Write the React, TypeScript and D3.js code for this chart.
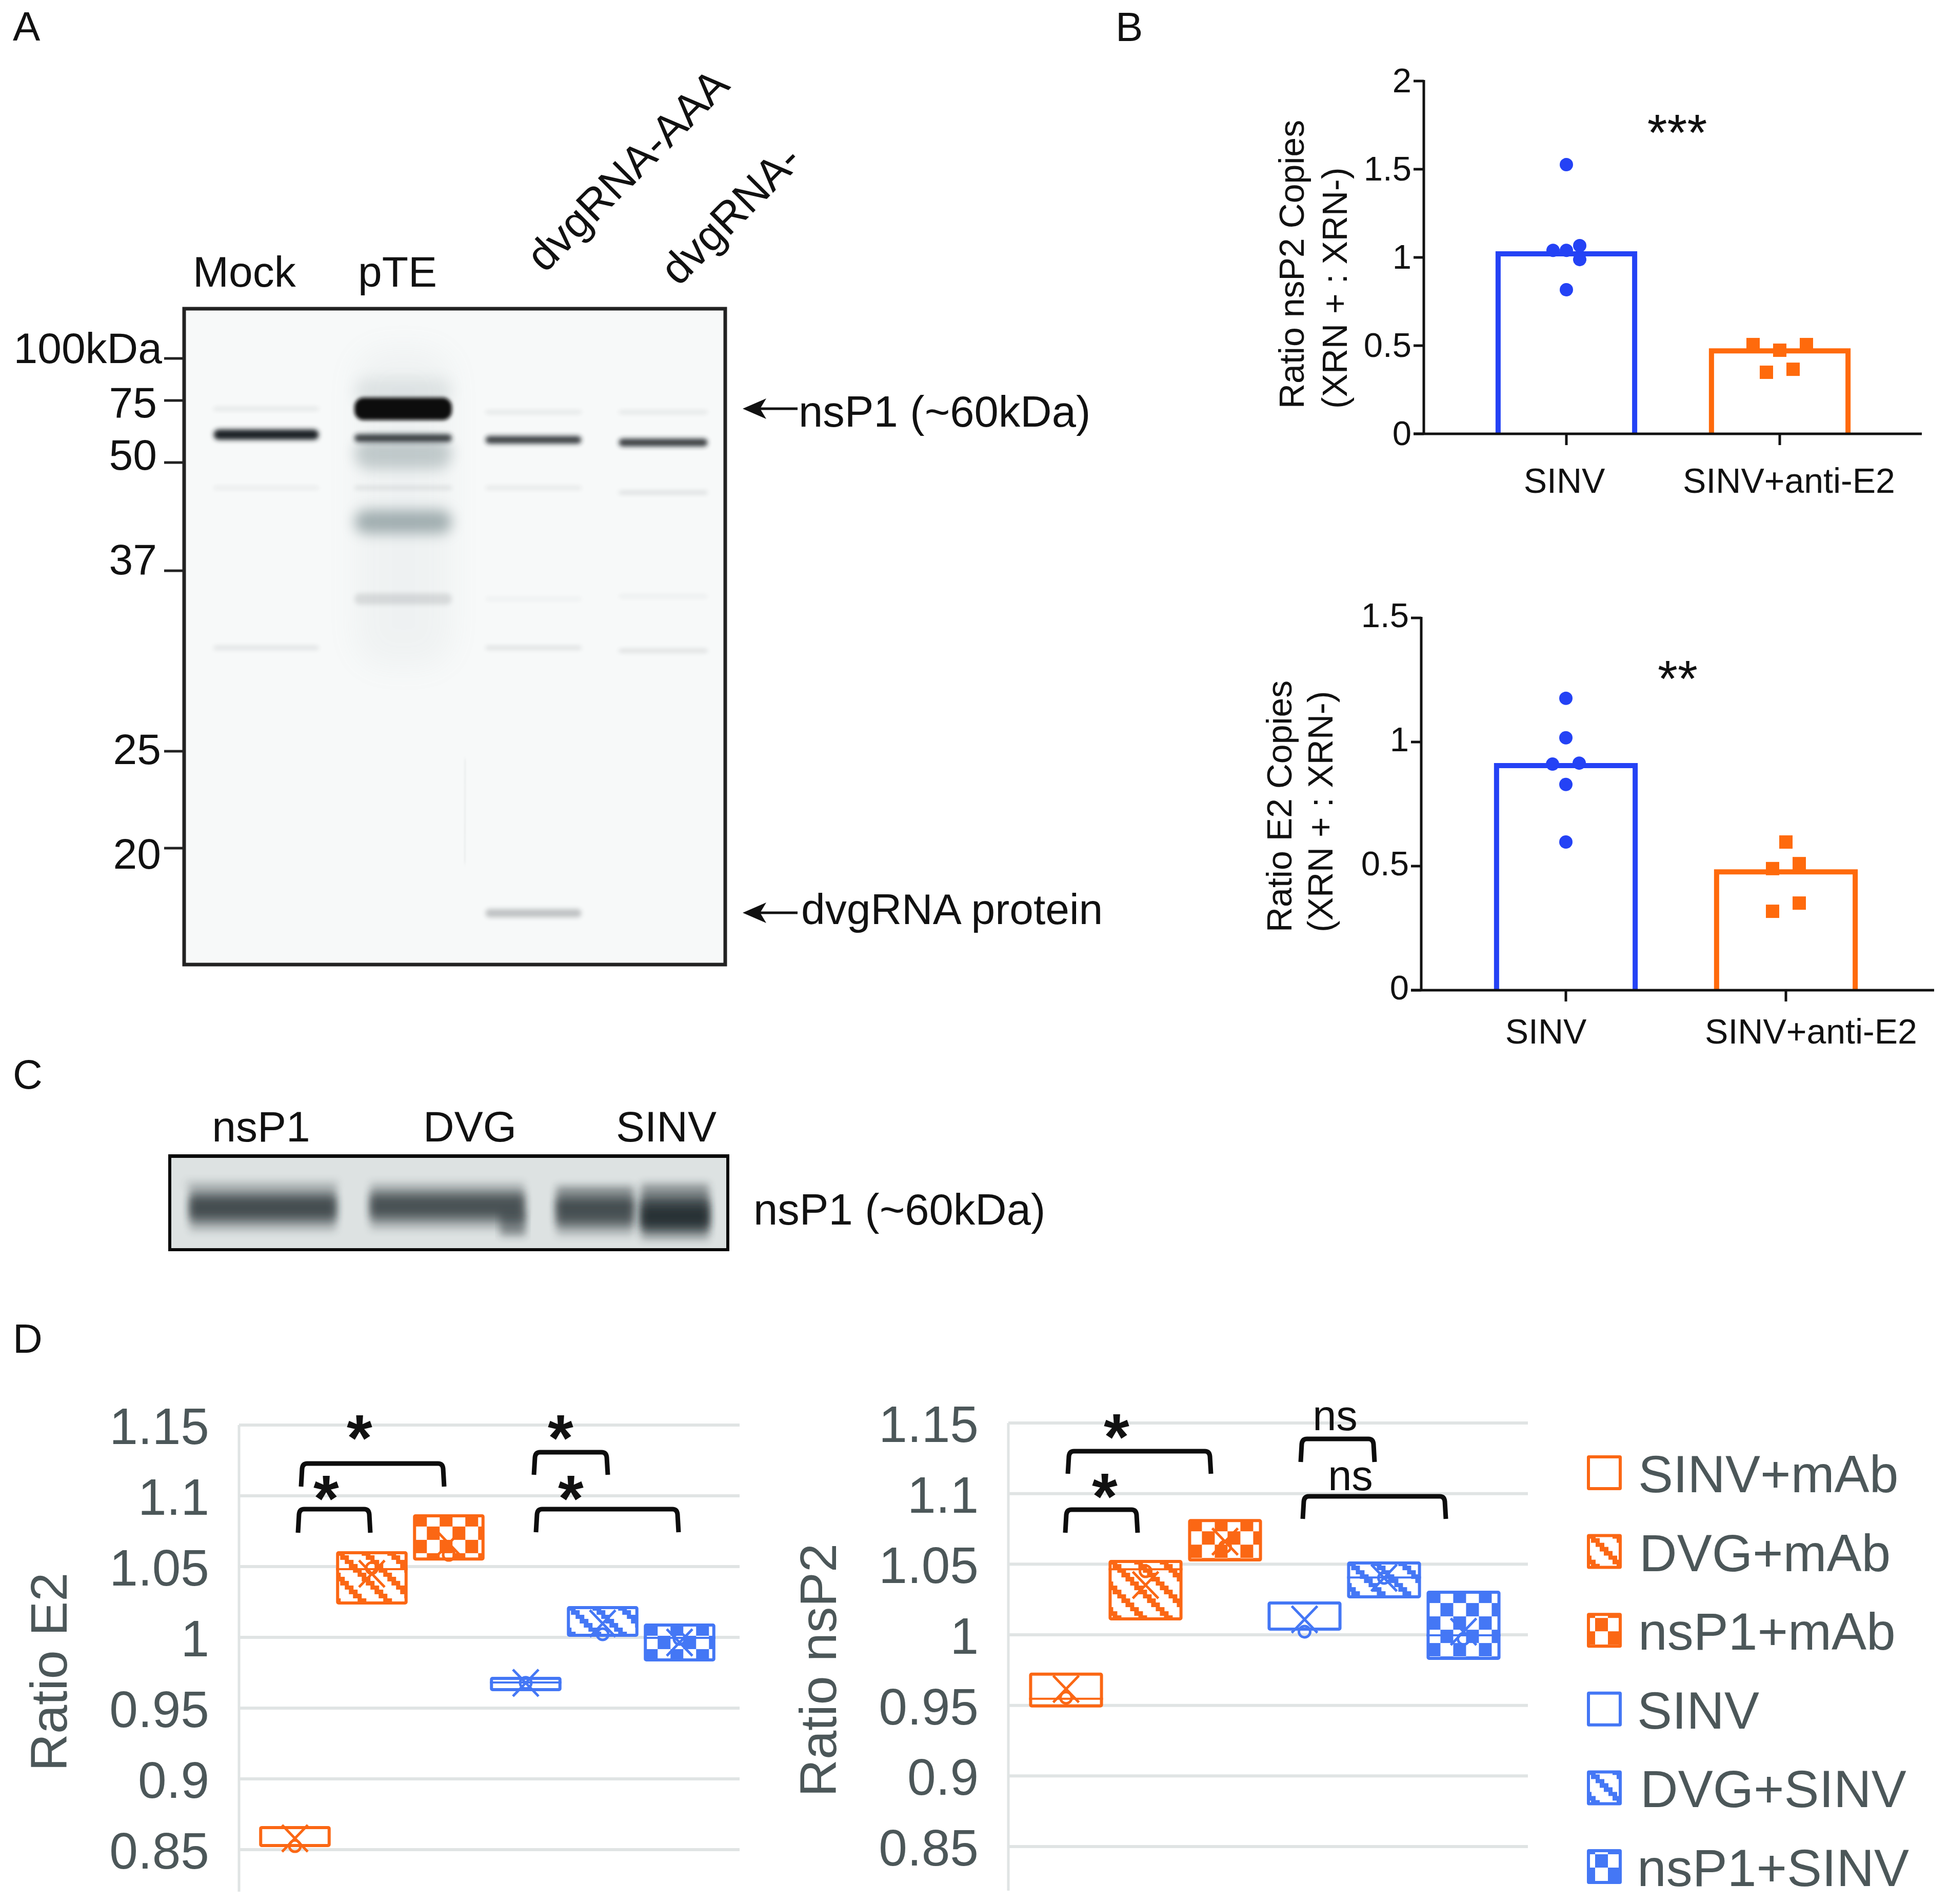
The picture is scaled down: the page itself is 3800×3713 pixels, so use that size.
import React from "react";
import * as d3 from "d3";

const FONT = "'Liberation Sans', Arial, sans-serif";
const BLUE_B = "#2442f5";
const ORANGE_B = "#ff6a0c";
const ORANGE = "#fb6714";
const BLUE = "#4477f5";
const GREY = "#4c5759";
const GRID = "#e0e4e4";

// ---------- Panel A
const kdaTicks = [100, 75, 50, 37, 25, 20];
const kdaLabels = ["100kDa", "75", "50", "37", "25", "20"];
const laneNames = ["Mock", "pTE", "dvgRNA-AAA", "dvgRNA-"];
const bandLane = [0, 0, 0, 0, 1, 1, 1, 1, 1, 1, 1, 2, 2, 2, 2, 2, 2, 3, 3, 3, 3, 3];
const bandKda = [60, 71, 46.6, 31.3, 80, 53, 71, 58.7, 46.6, 42.4, 34.8, 69.5, 58, 46.6, 34.8, 31.3, 18, 69.5, 57, 46, 35, 31.1];
const bandThick = [20, 6, 6, 7, 50, 60, 44, 15, 6, 46, 22, 6, 15, 6, 5, 6, 16, 6, 15, 7, 5, 6];
const bandInk = [1, 0.11, 0.08, 0.12, 0.06, 0.16, 1, 0.85, 0.12, 0.27, 0.12, 0.11, 0.85, 0.1, 0.06, 0.14, 0.25, 0.11, 0.87, 0.13, 0.07, 0.15];
const strongBand = [false, false, false, false, false, false, true, false, false, false, false, false, false, false, false, false, false, false, false, false, false, false];

// ---------- Panel B
const groupsB = ["SINV", "SINV+anti-E2"];
const nsp2Bars = [1.02, 0.47];
const nsp2Sinv = [1.526, 1.04, 1.04, 1.067, 0.988, 0.817];
const nsp2SinvDodge = [0, -1, 0, 1, 1, 0];
const nsp2Mab = [0.506, 0.474, 0.506, 0.349, 0.366];
const nsp2MabDodge = [-2, 0, 2, -1, 1];
const e2Bars = [0.905, 0.477];
const e2Sinv = [1.176, 1.017, 0.911, 0.915, 0.829, 0.597];
const e2SinvDodge = [0, 0, -1, 1, 0, 0];
const e2Mab = [0.597, 0.49, 0.51, 0.318, 0.351];
const e2MabDodge = [0, -1, 1, -1, 1];

// ---------- Panel C
const laneNamesC = ["nsP1", "DVG", "SINV"];

// ---------- Panel D
const groupsD = ["SINV+mAb", "DVG+mAb", "nsP1+mAb", "SINV", "DVG+SINV", "nsP1+SINV"];
const groupHue = ["o", "o", "o", "b", "b", "b"];
const groupFill = ["none", "stripe", "check", "none", "stripe", "check"];
const ticksD = [0.85, 0.9, 0.95, 1, 1.05, 1.1, 1.15];
const e2Q3 = [0.8667, 1.0609, 1.087, 0.9721, 1.0221, 1.0098];
const e2Q1 = [0.8518, 1.0232, 1.0543, 0.962, 1.0004, 0.983];
const e2Median = [null, 1.0482, null, 0.9681, null, 0.9996];
const e2Mean = [0.858, 1.0449, 1.0663, 0.9678, 1.0098, 0.9964];
const e2Point = [0.8525, 1.0489, 1.0583, 0.9678, 1.0022, 0.9989];
const p2Q3 = [0.9732, 1.053, 1.082, 1.0236, 1.0519, 1.0312];
const p2Q1 = [0.9485, 1.0102, 1.0519, 1.0029, 1.0258, 0.9822];
const p2Median = [0.9547, 1.0464, null, null, 1.0406, 0.9996];
const p2Mean = [0.9616, 1.0352, 1.066, 1.0109, 1.0403, 1.0022];
const p2Point = [0.9554, 1.045, 1.0624, 1.0022, 1.0403, 0.9971];

const T = (p: any) => <text fontFamily={FONT} fill="#111" {...p} />;

function bracketPath(x0: number, x1: number, top: number, bottom: number) {
  const p = d3.path();
  p.moveTo(x0, bottom);
  p.lineTo(x0 + 2, top + 10);
  p.quadraticCurveTo(x0 + 3, top, x0 + 12, top);
  p.lineTo(x1 - 12, top);
  p.quadraticCurveTo(x1 - 3, top, x1 - 2, top + 10);
  p.lineTo(x1, bottom);
  return p.toString();
}

function Arrow({ x0, x1, y }: any) {
  return (
    <g>
      <line x1={x0 + 20} x2={x1} y1={y} y2={y} stroke="#111" strokeWidth={5} />
      <path d={`M${x0},${y} L${x0 + 46},${y - 20} L${x0 + 34},${y} L${x0 + 46},${y + 20} Z`} fill="#111" />
    </g>
  );
}

function PanelA() {
  const y = d3.scaleLog().domain([100, 75, 50, 37, 25, 20, 15]).range([699, 781, 902, 1113, 1465, 1654, 2000]);
  const cx = d3.scaleOrdinal<number, number>().domain([0, 1, 2, 3]).range([519, 786, 1040, 1293]);
  const bw = d3.scaleOrdinal<number, number>().domain([0, 1, 2, 3]).range([205, 190, 187, 173]);
  const labelRight = [316, 306, 306, 306, 314, 314];
  const labelBase = [708, 814, 916, 1120, 1490, 1694];
  return (
    <g>
      <rect x={359} y={602} width={1055} height={1279} fill="#f7f9f9" />
      <g clipPath="url(#blotClip)">
        <rect x={692} y={680} width={190} height={620} rx={60} fill="#8a9a9c" opacity={0.07} filter="url(#blurXL)" />
        {bandKda.map((k, i) => {
          const t = bandThick[i];
          const faint = t > 30 && bandInk[i] < 0.5;
          const strong = strongBand[i];
          const lane = bandLane[i];
          return (
            <rect
              key={i}
              x={cx(lane) - bw(lane) / 2}
              y={y(k) - t / 2}
              width={bw(lane)}
              height={t}
              rx={strong ? 18 : t / 2}
              fill={strong ? "#0c0c0e" : faint ? "#5f7478" : "#1c2426"}
              opacity={faint ? Math.min(1, bandInk[i] * 2) : bandInk[i]}
              filter={faint ? "url(#blurL)" : strong ? "url(#blurXS)" : "url(#blurS)"}
            />
          );
        })}
        <line x1={908} x2={905} y1={1480} y2={1684} stroke="#aab0b0" strokeWidth={2} opacity={0.45} filter="url(#blurXS)" />
      </g>
      <rect x={359} y={602} width={1055} height={1279} fill="none" stroke="#222" strokeWidth={7} />
      {kdaTicks.map((k, i) => (
        <g key={k}>
          <line x1={320} x2={359} y1={y(k)} y2={y(k)} stroke="#222" strokeWidth={5} />
          <T x={labelRight[i]} y={labelBase[i]} fontSize={84} textAnchor="end">{kdaLabels[i]}</T>
        </g>
      ))}
      <T x={376} y={559} fontSize={84}>{laneNames[0]}</T>
      <T x={698} y={559} fontSize={84}>{laneNames[1]}</T>
      <T x={1062} y={534} fontSize={85} transform="rotate(-45 1062 534)">{laneNames[2]}</T>
      <T x={1323} y={560} fontSize={85} transform="rotate(-45 1323 560)">{laneNames[3]}</T>
      <Arrow x0={1448} x1={1555} y={797} />
      <Arrow x0={1448} x1={1555} y={1780} />
      <T x={1557} y={832} fontSize={85}>nsP1 (~60kDa)</T>
      <T x={1562} y={1802} fontSize={84}>dvgRNA protein</T>
    </g>
  );
}

function PanelC() {
  const layers = [
    [92, 0.24],
    [62, 0.45],
    [36, 0.6],
  ];
  const lanes = [
    [370, 285, 2355, 0.9],
    [722, 300, 2352, 0.85],
    [1085, 150, 2364, 0.85],
    [1250, 132, 2372, 1.3],
  ];
  const washes = [
    [1085, 2312, 150, 45, 0.3],
    [1250, 2308, 132, 48, 0.38],
    [975, 2365, 50, 45, 0.42],
    [360, 2300, 300, 20, 0.08],
  ];
  return (
    <g>
      <rect x={331} y={2254} width={1088} height={183} fill="#dde2e2" />
      <g clipPath="url(#gelClip)">
        {washes.map((w, i) => (
          <rect key={i} x={w[0]} y={w[1]} width={w[2]} height={w[3]} fill="#1d2829" opacity={w[4]} filter="url(#blurM)" />
        ))}
        {lanes.map((l, i) =>
          layers.map(([h, o], j) => (
            <rect key={`${i}-${j}`} x={l[0]} y={l[2] - h / 2} width={l[1]} height={h} fill="#1d2829" opacity={Math.min(1, o * l[3])} filter="url(#blurM)" />
          ))
        )}
      </g>
      <line x1={328} x2={1422} y1={2254.5} y2={2254.5} stroke="#0a0a0a" strokeWidth={7} />
      <line x1={328} x2={1422} y1={2437} y2={2437} stroke="#0a0a0a" strokeWidth={6} />
      <line x1={331} x2={331} y1={2251} y2={2440} stroke="#0a0a0a" strokeWidth={6} />
      <line x1={1419} x2={1419} y1={2251} y2={2440} stroke="#0a0a0a" strokeWidth={6} />
      <T x={509} y={2226} fontSize={84} textAnchor="middle">{laneNamesC[0]}</T>
      <T x={916} y={2226} fontSize={84} textAnchor="middle">{laneNamesC[1]}</T>
      <T x={1299} y={2226} fontSize={84} textAnchor="middle">{laneNamesC[2]}</T>
      <T x={1469} y={2388} fontSize={85}>nsP1 (~60kDa)</T>
    </g>
  );
}

function PanelB(props: any) {
  const { axisX, y0, yTop, max, ticks, xEnd, bars, range, pad, labelShift, labelY, sinv, sinvD, mab, mabD, stars, starX, starBase, starSize, line1, line1X, line2X, labelYStart, dodge, tickDy } = props;
  const y = d3.scaleLinear().domain([0, max]).range([y0, yTop]);
  const x = d3.scaleBand<string>().domain(groupsB).range(range).paddingInner(pad).paddingOuter(pad / 2);
  const c = (g: string) => x(g)! + x.bandwidth() / 2;
  return (
    <g>
      {groupsB.map((g, i) => (
        <g key={g}>
          <path
            d={`M${x(g)},${y0} V${y(bars[i])} H${x(g)! + x.bandwidth()} V${y0}`}
            fill="#fff"
            stroke={i === 0 ? BLUE_B : ORANGE_B}
            strokeWidth={10}
          />
          <line x1={c(g)} x2={c(g)} y1={y0} y2={y0 + 22} stroke="#111" strokeWidth={5} />
          <T x={c(g) + labelShift[i]} y={labelY} fontSize={68} textAnchor="middle">{g}</T>
        </g>
      ))}
      <line x1={axisX} x2={axisX} y1={yTop - 2} y2={y0} stroke="#111" strokeWidth={5} />
      <line x1={axisX - 20} x2={xEnd} y1={y0} y2={y0} stroke="#111" strokeWidth={5} />
      {ticks.map((t: number) => (
        <g key={t}>
          <line x1={axisX - 20} x2={axisX} y1={y(t)} y2={y(t)} stroke="#111" strokeWidth={5} />
          <T x={axisX - 24} y={y(t) + tickDy} fontSize={67} textAnchor="end">{String(t)}</T>
        </g>
      ))}
      {sinv.map((v: number, i: number) => (
        <circle key={i} cx={c(groupsB[0]) + sinvD[i] * dodge} cy={y(v)} r={13} fill={BLUE_B} />
      ))}
      {mab.map((v: number, i: number) => (
        <rect key={i} x={c(groupsB[1]) + mabD[i] * dodge - 13} y={y(v) - 13} width={26} height={26} fill={ORANGE_B} />
      ))}
      <T x={starX} y={starBase} fontSize={starSize} textAnchor="middle">{stars}</T>
      <T fontSize={68} transform={`translate(${line1X},${labelYStart}) rotate(-90)`}>{line1}</T>
      <T fontSize={68} transform={`translate(${line2X},${labelYStart}) rotate(-90)`}>(XRN + : XRN-)</T>
    </g>
  );
}

function BoxPanel(props: any) {
  const { id, axisX, gridEnd, y1, y085, bottom, range, q3, q1, med, mean, pt, title, titleX, titleY, labelRight, brackets, notes } = props;
  const y = d3.scaleLinear().domain([1, 0.85]).range([y1, y085]);
  const x = d3.scaleBand<string>().domain(groupsD).range(range).paddingInner(0.07).paddingOuter(0.035);
  return (
    <g>
      {ticksD.map((t) => (
        <g key={t}>
          <line x1={axisX} x2={gridEnd} y1={y(t)} y2={y(t)} stroke={GRID} strokeWidth={6} />
          <T x={labelRight} y={y(t) + 37} fontSize={100} fill={GREY} textAnchor="end">{String(t)}</T>
        </g>
      ))}
      <line x1={axisX} x2={axisX} y1={y(1.15)} y2={bottom} stroke={GRID} strokeWidth={5} />
      <T fontSize={101} fill={GREY} transform={`translate(${titleX},${titleY}) rotate(-90)`}>{title}</T>
      {groupsD.map((g, i) => {
        const col = groupHue[i] === "o" ? ORANGE : BLUE;
        const bx = x(g)!;
        const bw = x.bandwidth();
        const top = y(q3[i]);
        const h = y(q1[i]) - top;
        const pid = `${id}-${i}`;
        const cx = bx + bw / 2;
        return (
          <g key={g}>
            {groupFill[i] === "stripe" && <Stripe id={pid} x={bx} y={top} col={col} />}
            {groupFill[i] === "check" && <Check id={pid} x={bx + 27} y={top + 24} col={col} />}
            <rect x={bx + 3} y={top + 3} width={bw - 6} height={h - 6} rx={2} fill={groupFill[i] === "none" ? "none" : `url(#${pid})`} stroke={col} strokeWidth={6} />
            {med[i] !== null && <line x1={bx} x2={bx + bw} y1={y(med[i])} y2={y(med[i])} stroke={col} strokeWidth={4} />}
            <path d={`M${cx - 25},${y(mean[i]) - 26} L${cx + 25},${y(mean[i]) + 26} M${cx + 25},${y(mean[i]) - 26} L${cx - 25},${y(mean[i]) + 26}`} stroke={col} strokeWidth={5} fill="none" />
            <circle cx={cx} cy={y(pt[i])} r={11} fill="none" stroke={col} strokeWidth={5} />
          </g>
        );
      })}
      {brackets.map((b: number[], i: number) => (
        <path key={i} d={bracketPath(b[0], b[1], b[2], b[3])} fill="none" stroke="#0d0d0d" strokeWidth={9} />
      ))}
      {notes.map((n: any, i: number) => (
        <T key={i} x={n[1]} y={n[2]} fontSize={n[0] === "*" ? 128 : 83} fontWeight={n[0] === "*" ? "bold" : "normal"} textAnchor="middle">{n[0]}</T>
      ))}
    </g>
  );
}

function Stripe({ id, x, y, col }: any) {
  const step = 8.33;
  return (
    <pattern id={id} patternUnits="userSpaceOnUse" x={x} y={y} width={50} height={50}>
      <rect width={50} height={50} fill="#fff" />
      {d3.range(6).map((i) => (
        <g key={i} fill={col} shapeRendering="crispEdges">
          <rect x={i * step} y={i * step} width={17} height={step + 0.5} />
          <rect x={i * step - 50} y={i * step} width={17} height={step + 0.5} />
        </g>
      ))}
    </pattern>
  );
}

function Check({ id, x, y, col, w = 25, h = 26 }: any) {
  return (
    <pattern id={id} patternUnits="userSpaceOnUse" x={x} y={y} width={2 * w} height={2 * h}>
      <rect width={2 * w} height={2 * h} fill="#fff" />
      <rect width={w} height={h} fill={col} />
      <rect x={w} y={h} width={w} height={h} fill={col} />
    </pattern>
  );
}

function Legend() {
  const y = d3.scalePoint<string>().domain(groupsD).range([2838, 3606]);
  const textX = [3194, 3196, 3194, 3192, 3198, 3192];
  return (
    <g>
      {groupsD.map((g, i) => {
        const col = groupHue[i] === "o" ? ORANGE : BLUE;
        const top = y(g)!;
        const pid = `leg-${i}`;
        return (
          <g key={g}>
            {groupFill[i] === "stripe" && <Stripe id={pid} x={3094} y={top} col={col} />}
            {groupFill[i] === "check" && <Check id={pid} x={3094 + 16} y={top + 10} col={col} />}
            <rect x={3097} y={top + 3} width={62} height={62} rx={1} fill={groupFill[i] === "none" ? "none" : `url(#${pid})`} stroke={col} strokeWidth={6} />
            <T x={textX[i]} y={top + 72} fontSize={102} fill={GREY}>{g}</T>
          </g>
        );
      })}
    </g>
  );
}

export default function App() {
  return (
    <svg width={3800} height={3713} viewBox="0 0 3800 3713" style={{ position: "absolute", left: 0, top: 0, background: "#fff" }}>
      <defs>
        <filter id="blurXS" x="-10%" y="-50%" width="120%" height="200%"><feGaussianBlur stdDeviation="3.5" /></filter>
        <filter id="blurS" x="-10%" y="-300%" width="120%" height="700%"><feGaussianBlur stdDeviation="5" /></filter>
        <filter id="blurM" x="-20%" y="-50%" width="140%" height="200%"><feGaussianBlur stdDeviation="8" /></filter>
        <filter id="blurL" x="-20%" y="-100%" width="140%" height="300%"><feGaussianBlur stdDeviation="13" /></filter>
        <filter id="blurXL" x="-50%" y="-30%" width="200%" height="160%"><feGaussianBlur stdDeviation="30" /></filter>
        <clipPath id="blotClip"><rect x={359} y={602} width={1055} height={1279} /></clipPath>
        <clipPath id="gelClip"><rect x={331} y={2254} width={1088} height={183} /></clipPath>
      </defs>
      <T x={25} y={79} fontSize={80}>A</T>
      <T x={2175} y={80} fontSize={80}>B</T>
      <T x={25} y={2123} fontSize={80}>C</T>
      <T x={25} y={2638} fontSize={80}>D</T>
      <PanelA />
      <PanelC />
      <PanelB
        axisX={2776} y0={846} yTop={158} max={2} ticks={[0, 0.5, 1, 1.5, 2]} xEnd={3747}
        bars={nsp2Bars} range={[2846, 3678]} pad={0.36} labelShift={[-4, 18]} labelY={961} tickDy={22}
        sinv={nsp2Sinv} sinvD={nsp2SinvDodge} mab={nsp2Mab} mabD={nsp2MabDodge} dodge={26}
        stars="***" starX={3270} starBase={293} starSize={100}
        line1="Ratio nsP2 Copies" line1X={2542} line2X={2626} labelYStart={797}
      />
      <PanelB
        axisX={2771} y0={1931} yTop={1205} max={1.5} ticks={[0, 0.5, 1, 1.5]} xEnd={3771}
        bars={e2Bars} range={[2838.5, 3696.5]} pad={0.37} labelShift={[-39, 49]} labelY={2035} tickDy={18}
        sinv={e2Sinv} sinvD={e2SinvDodge} mab={e2Mab} mabD={e2MabDodge} dodge={26}
        stars="**" starX={3271} starBase={1358} starSize={100}
        line1="Ratio E2 Copies" line1X={2518} line2X={2598} labelYStart={1818}
      />
      <BoxPanel
        id="e2" axisX={466} gridEnd={1442} y1={3193} y085={3607} bottom={3689} range={[500, 1400]}
        q3={e2Q3} q1={e2Q1} med={e2Median} mean={e2Mean} pt={e2Point}
        title="Ratio E2" titleX={130} titleY={3454} labelRight={408}
        brackets={[[587, 866, 2854, 2899], [581, 722, 2943, 2989], [1041, 1185, 2832, 2876], [1045, 1323, 2943, 2988]]}
        notes={[["*", 701, 2848], ["*", 636, 2966], ["*", 1093, 2848], ["*", 1113, 2966]]}
      />
      <BoxPanel
        id="p2" axisX={1966} gridEnd={2979} y1={3188} y085={3601} bottom={3687} range={[2001, 2931]}
        q3={p2Q3} q1={p2Q1} med={p2Median} mean={p2Mean} pt={p2Point}
        title="Ratio nsP2" titleX={1630} titleY={3504} labelRight={1908}
        brackets={[[2082, 2361, 2830, 2874], [2077, 2218, 2944, 2989], [2536, 2680, 2806, 2851], [2540, 2819, 2918, 2962]]}
        notes={[["*", 2177, 2846], ["*", 2154, 2962], ["ns", 2603, 2789], ["ns", 2633, 2906]]}
      />
      <Legend />
    </svg>
  );
}
